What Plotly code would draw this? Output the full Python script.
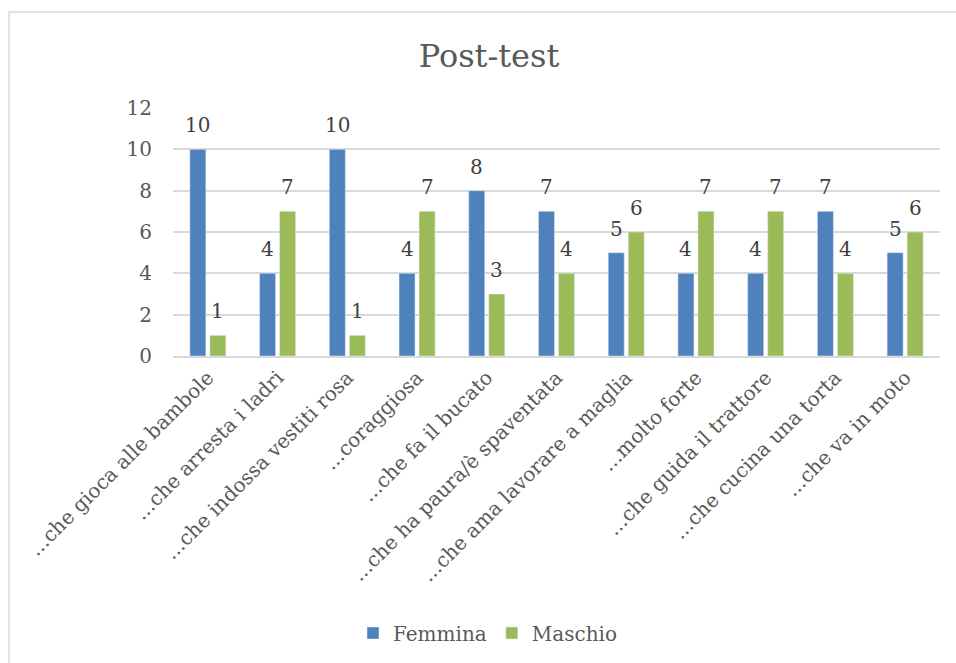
import plotly.graph_objects as go

# Survey answers, post-test
categories = [
    "...che gioca alle bambole",
    "...che arresta i ladri",
    "...che indossa vestiti rosa",
    "...coraggiosa",
    "...che fa il bucato",
    "...che ha paura/è spaventata",
    "...che ama lavorare a maglia",
    "...molto forte",
    "...che guida il trattore",
    "...che cucina una torta",
    "...che va in moto",
]
femmina = [10, 4, 10, 4, 8, 7, 5, 4, 4, 7, 5]
maschio = [1, 7, 1, 7, 3, 4, 6, 7, 7, 4, 6]
y_ticks = [0, 2, 4, 6, 8, 10, 12]

FONT = "DejaVu Serif"
TEXT = "#595959"
LABEL = "#404040"
GRID = "#D9D9D9"

W, H = 956, 663
ML, MR, MT, MB = 173, 16, 108, 307

fig = go.Figure()
fig.add_trace(go.Bar(name="Femmina", x=categories, y=femmina, marker_color="#4F81BD"))
fig.add_trace(go.Bar(name="Maschio", x=categories, y=maschio, marker_color="#9BBB59"))

# value labels above each bar (offset to each bar's slot within the group)
for series, dx in ((femmina, -10), (maschio, 10)):
    for cat, val in zip(categories, series):
        fig.add_annotation(
            x=cat, y=val, xref="x", yref="y", text=str(val),
            showarrow=False, xshift=dx, yanchor="bottom", yshift=10,
            font=dict(family=FONT, size=20, color=LABEL),
        )

plot_w = W - ML - MR
plot_h = H - MT - MB

# light frame around the chart area (left/top edges visible)
fig.add_shape(
    type="rect", xref="paper", yref="paper",
    x0=(9 - ML) / plot_w, x1=1 + 40 / plot_w,
    y0=-(MB + 20) / plot_h, y1=1 + (MT - 12) / plot_h,
    line=dict(color=GRID, width=1.5), fillcolor="rgba(0,0,0,0)",
    layer="below",
)

fig.update_layout(
    width=W, height=H,
    margin=dict(l=ML, r=MR, t=MT, b=MB),
    paper_bgcolor="white", plot_bgcolor="white",
    barmode="group", bargap=0.426, bargroupgap=0.2,
    font=dict(family=FONT, color=TEXT),
    title=dict(
        text="Post-test", x=489 / W, xref="container", xanchor="center",
        y=1 - 56 / H, yref="container", yanchor="middle",
        font=dict(family=FONT, size=32, color=TEXT),
    ),
    legend=dict(
        orientation="h", x=488 / W, xref="container", xanchor="center",
        y=30 / H, yref="container", yanchor="middle",
        font=dict(family=FONT, size=20, color=TEXT),
        itemwidth=30,
    ),
    xaxis=dict(
        tickangle=-45, tickfont=dict(family=FONT, size=20, color=TEXT),
        showline=True, linecolor=GRID, linewidth=2,
        ticks="", showgrid=False,
    ),
    yaxis=dict(
        range=[0, 12], tickvals=y_ticks, ticks="",
        tickfont=dict(family=FONT, size=20, color=TEXT),
        showgrid=True, gridcolor=GRID, gridwidth=1.5,
        zeroline=False, showline=False, ticklabelstandoff=20,
    ),
)

fig.write_html("out.html")
